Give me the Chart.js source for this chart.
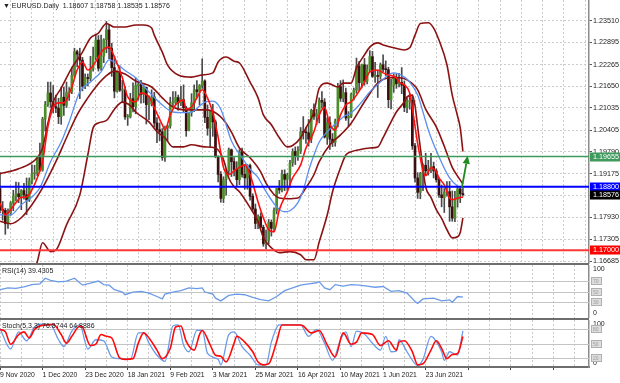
<!DOCTYPE html>
<html>
<head>
<meta charset="utf-8">
<title>EURUSD Daily</title>
<script src="https://cdn.jsdelivr.net/npm/chart.js@4.4.1/dist/chart.umd.min.js"></script>
<style>
html,body{margin:0;padding:0;background:#fff;}
#wrap{position:relative;width:620px;height:383px;overflow:hidden;background:#fff;font-family:'Liberation Sans',Arial,sans-serif;}
.pane{position:absolute;left:0;width:620px;}
.sep{position:absolute;left:0;width:589px;background:#6e6e6e;}
.lbl{position:absolute;font-size:7px;line-height:9px;color:#222;white-space:nowrap;}
</style>
</head>
<body>
<div id="wrap">
  <div class="pane" style="top:0;height:266px"><canvas id="cMain"></canvas></div>
  <div class="pane" style="top:265px;height:53px"><canvas id="cRsi"></canvas></div>
  <div class="pane" style="top:320px;height:63px"><canvas id="cSto"></canvas></div>
  <div class="sep" style="top:263px;height:2px"></div>
  <div class="sep" style="top:318px;height:2px"></div>
  <div class="lbl" style="left:3px;top:1px">&#9660; EURUSD.Daily&nbsp; 1.18607 1.18758 1.18535 1.18576</div>
  <div class="lbl" style="left:2px;top:266px">RSI(14) 39.4305</div>
  <div class="lbl" style="left:2px;top:321px">Stoch(5,3,3) 76.8744 64.8886</div>
</div>
<script>
// ---------------- DATA ----------------
const tickLabels = ['9 Nov 2020','1 Dec 2020','23 Dec 2020','18 Jan 2021','9 Feb 2021','3 Mar 2021','25 Mar 2021','16 Apr 2021','10 May 2021','1 Jun 2021','23 Jun 2021'];
const priceTicks = [1.23510,1.22895,1.22265,1.21650,1.21035,1.20405,1.19790,1.19175,1.18545,1.17930,1.17305,1.16685];

const candleOpen = [
1.1875,1.1814,1.1813,1.1775,1.1806,1.1834,1.1853,1.1860,1.1852,1.1869,
1.1857,1.1842,1.1896,1.1917,1.1918,1.1963,1.1927,1.2072,1.2113,1.2146,
1.2121,1.2107,1.2103,1.2079,1.2134,1.2111,1.2147,1.2150,1.2196,1.2263,
1.2256,1.2239,1.2165,1.2189,1.2187,1.2214,1.2248,1.2296,1.2216,1.2250,
1.2297,1.2325,1.2272,1.2218,1.2151,1.2206,1.2154,1.2154,1.2078,1.2078,
1.2130,1.2107,1.2167,1.2170,1.2142,1.2162,1.2113,1.2116,1.2135,1.2061,
1.2042,1.2036,1.1963,1.2047,1.2053,1.2118,1.2118,1.2133,1.2118,1.2127,
1.2104,1.2039,1.2090,1.2118,1.2155,1.2150,1.2167,1.2180,1.2077,1.2046,
1.2093,1.2064,1.1966,1.1915,1.1847,1.1900,1.1926,1.1985,1.1951,1.1929,
1.1900,1.1979,1.1915,1.1905,1.1940,1.1853,1.1817,1.1776,1.1795,1.1765,
1.1718,1.1728,1.1779,1.1762,1.1813,1.1875,1.1871,1.1915,1.1901,1.1913,
1.1948,1.1980,1.1966,1.1982,1.2036,1.2034,1.2033,1.2015,1.2097,1.2080,
1.2088,1.2125,1.2120,1.2021,1.2062,1.2015,1.2006,1.2066,1.2164,1.2131,
1.2147,1.2075,1.2080,1.2142,1.2154,1.2222,1.2175,1.2226,1.2179,1.2213,
1.2249,1.2193,1.2194,1.2193,1.2226,1.2213,1.2212,1.2127,1.2167,1.2191,
1.2172,1.2176,1.2168,1.2105,1.2122,1.2125,1.1996,1.1905,1.1864,1.1918,
1.1941,1.1925,1.1929,1.1937,1.1925,1.1900,1.1857,1.1849,1.1865,1.1866,
1.1823,1.1791,1.1844,1.1874,1.18607];
const candleHigh = [
1.1920,1.1838,1.1819,1.1817,1.1838,1.1870,1.1893,1.1892,1.1872,1.1890,
1.1905,1.1905,1.1942,1.1941,1.1965,1.2004,1.2077,1.2122,1.2177,1.2177,
1.2167,1.2140,1.2131,1.2162,1.2163,1.2177,1.2161,1.2219,1.2273,1.2268,
1.2273,1.2247,1.2200,1.2200,1.2250,1.2276,1.2310,1.2309,1.2310,1.2300,
1.2349,1.2338,1.2287,1.2251,1.2209,1.2223,1.2182,1.2165,1.2085,1.2145,
1.2175,1.2189,1.2179,1.2182,1.2168,1.2163,1.2138,1.2155,1.2148,1.2076,
1.2061,1.2045,1.2052,1.2054,1.2134,1.2150,1.2150,1.2140,1.2165,1.2169,
1.2108,1.2092,1.2144,1.2169,1.2181,1.2170,1.2243,1.2183,1.2112,1.2097,
1.2114,1.2069,1.1968,1.1923,1.1908,1.1930,1.1990,1.1987,1.1963,1.1951,
1.1985,1.1990,1.1943,1.1943,1.1944,1.1860,1.1831,1.1800,1.1806,1.1771,
1.1757,1.1787,1.1786,1.1820,1.1876,1.1898,1.1927,1.1928,1.1918,1.1955,
1.1988,1.1993,1.1994,1.2048,1.2079,1.2048,1.2071,1.2100,1.2115,1.2100,
1.2132,1.2150,1.2130,1.2076,1.2078,1.2031,1.2072,1.2173,1.2181,1.2183,
1.2160,1.2093,1.2146,1.2160,1.2245,1.2236,1.2228,1.2244,1.2226,1.2266,
1.2264,1.2233,1.2210,1.2231,1.2254,1.2237,1.2219,1.2185,1.2200,1.2200,
1.2202,1.2218,1.2180,1.2132,1.2143,1.2140,1.2003,1.1920,1.1921,1.1945,
1.1975,1.1955,1.1975,1.1950,1.1931,1.1905,1.1885,1.1875,1.1895,1.1895,
1.1868,1.1867,1.1880,1.1880,1.18758];
const candleLow = [
1.1806,1.1785,1.1745,1.1762,1.1799,1.1812,1.1840,1.1835,1.1815,1.1845,
1.1801,1.1838,1.1888,1.1901,1.1911,1.1924,1.1924,1.2038,1.2108,1.2105,
1.2089,1.2090,1.2059,1.2057,1.2082,1.2105,1.2125,1.2144,1.2190,1.2220,
1.2130,1.2152,1.2158,1.2166,1.2180,1.2208,1.2240,1.2208,1.2210,1.2232,
1.2260,1.2243,1.2193,1.2132,1.2148,1.2150,1.2120,1.2071,1.2054,1.2075,
1.2092,1.2087,1.2126,1.2117,1.2118,1.2058,1.2070,1.2109,1.2049,1.2005,
1.2011,1.1955,1.1952,1.2011,1.2046,1.2108,1.2112,1.2097,1.2110,1.2092,
1.2023,1.2038,1.2080,1.2093,1.2133,1.2112,1.2159,1.2062,1.2026,1.1992,
1.2023,1.1962,1.1894,1.1836,1.1835,1.1856,1.1917,1.1909,1.1911,1.1882,
1.1886,1.1907,1.1873,1.1873,1.1842,1.1810,1.1761,1.1761,1.1762,1.1711,
1.1704,1.1718,1.1740,1.1755,1.1803,1.1861,1.1865,1.1869,1.1870,1.1878,
1.1938,1.1943,1.1955,1.1974,1.2015,1.2003,1.1995,1.2005,1.2071,1.2056,
1.2061,1.2103,1.2018,1.2000,1.1986,1.1994,1.1995,1.2050,1.2122,1.2121,
1.2068,1.2052,1.2076,1.2126,1.2145,1.2152,1.2160,1.2168,1.2172,1.2205,
1.2190,1.2176,1.2133,1.2185,1.2206,1.2195,1.2104,1.2101,1.2148,1.2159,
1.2163,1.2144,1.2093,1.2090,1.2100,1.1986,1.1893,1.1847,1.1846,1.1869,
1.1913,1.1913,1.1920,1.1905,1.1893,1.1850,1.1823,1.1807,1.1853,1.1782,
1.1782,1.1781,1.1822,1.1835,1.18535];
const candleClose = [
1.1814,1.1813,1.1775,1.1806,1.1834,1.1853,1.1860,1.1852,1.1869,1.1857,
1.1842,1.1896,1.1917,1.1918,1.1963,1.1927,1.2072,1.2113,1.2146,1.2121,
1.2107,1.2103,1.2079,1.2134,1.2111,1.2147,1.2150,1.2196,1.2263,1.2256,
1.2239,1.2165,1.2189,1.2187,1.2214,1.2248,1.2296,1.2216,1.2250,1.2297,
1.2325,1.2272,1.2218,1.2151,1.2206,1.2154,1.2154,1.2078,1.2078,1.2130,
1.2107,1.2167,1.2170,1.2142,1.2162,1.2113,1.2116,1.2135,1.2061,1.2042,
1.2036,1.1963,1.2047,1.2053,1.2118,1.2118,1.2133,1.2118,1.2127,1.2104,
1.2039,1.2090,1.2118,1.2155,1.2150,1.2167,1.2180,1.2077,1.2046,1.2093,
1.2064,1.1966,1.1915,1.1847,1.1900,1.1926,1.1985,1.1951,1.1929,1.1900,
1.1979,1.1915,1.1905,1.1940,1.1853,1.1817,1.1776,1.1795,1.1765,1.1718,
1.1728,1.1779,1.1762,1.1813,1.1875,1.1871,1.1915,1.1901,1.1913,1.1948,
1.1980,1.1966,1.1982,1.2036,1.2034,1.2033,1.2015,1.2097,1.2080,1.2088,
1.2125,1.2120,1.2021,1.2062,1.2015,1.2006,1.2066,1.2164,1.2131,1.2147,
1.2075,1.2080,1.2142,1.2154,1.2222,1.2175,1.2226,1.2179,1.2213,1.2249,
1.2193,1.2194,1.2193,1.2226,1.2213,1.2212,1.2127,1.2167,1.2191,1.2172,
1.2176,1.2168,1.2105,1.2122,1.2125,1.1996,1.1905,1.1864,1.1918,1.1941,
1.1925,1.1929,1.1937,1.1925,1.1900,1.1857,1.1849,1.1865,1.1866,1.1823,
1.1791,1.1844,1.1874,1.1860,1.18576];

// Indicator lines: [bar index, value]
const bbUpper = [[0,1.1917],[7,1.1931],[14,1.1962],[16,1.1990],[18,1.2060],[20,1.2120],[23,1.2160],[27,1.2217],[31,1.2262],[34,1.2302],[37,1.2316],[40,1.2343],[43,1.2333],[47,1.2333],[51,1.2339],[54,1.2339],[57,1.2330],[58,1.2310],[61,1.2262],[63,1.2225],[67,1.2197],[72,1.2191],[76,1.2197],[80,1.2203],[82,1.2234],[85,1.2248],[88,1.2236],[90,1.2231],[94,1.2177],[97,1.2132],[99,1.2084],[102,1.2056],[105,1.2019],[108,1.1993],[110,1.1997],[113,1.2019],[115,1.2047],[118,1.2092],[120,1.2160],[123,1.2174],[127,1.2163],[129,1.2174],[132,1.2174],[134,1.2217],[137,1.2254],[139,1.2276],[142,1.2288],[144,1.2282],[148,1.2274],[152,1.2268],[154,1.2274],[156,1.2310],[158,1.2343],[161,1.2345],[163,1.2330],[165,1.2296],[168,1.2226],[170,1.2140],[172,1.2080],[173,1.2047],[174,1.1980]];
const bbMiddle = [[0,1.1782],[4,1.1775],[8,1.1792],[12,1.1829],[16,1.1877],[21,1.1951],[25,1.2019],[29,1.2084],[33,1.2132],[36,1.2163],[40,1.2195],[43,1.2208],[47,1.2200],[51,1.2180],[57,1.2163],[61,1.2132],[65,1.2106],[69,1.2098],[73,1.2098],[78,1.2098],[81,1.2090],[84,1.2070],[87,1.2035],[90,1.1990],[94,1.1962],[98,1.1922],[100,1.1890],[103,1.1858],[105,1.1848],[108,1.1846],[112,1.1848],[115,1.1877],[118,1.1914],[120,1.1951],[124,1.1999],[128,1.2027],[132,1.2060],[137,1.2121],[142,1.2174],[147,1.2189],[150,1.2189],[153,1.2183],[157,1.2155],[160,1.2100],[164,1.2050],[167,1.1995],[170,1.1935],[172,1.1910],[174,1.1888]];
const bbLower = [[12,1.1630],[14,1.1667],[16,1.1721],[19,1.1696],[21,1.1700],[25,1.1772],[30,1.1857],[33,1.1970],[35,1.2047],[37,1.2061],[40,1.2068],[43,1.2100],[46,1.2120],[49,1.2110],[51,1.2092],[56,1.2064],[59,1.2036],[62,1.2019],[65,1.1993],[69,1.1993],[72,1.1999],[77,1.1993],[81,1.1990],[84,1.1957],[86,1.1905],[88,1.1880],[90,1.1866],[94,1.1821],[97,1.1781],[99,1.1736],[102,1.1707],[105,1.1693],[109,1.1696],[113,1.1687],[115,1.1673],[118,1.1673],[120,1.1724],[123,1.1800],[125,1.1866],[128,1.1934],[130,1.1970],[132,1.1979],[135,1.1985],[139,1.1990],[142,1.1993],[144,1.2019],[147,1.2064],[149,1.2092],[152,1.2121],[153,1.2135],[155,1.2140],[156,1.2110],[157,1.2050],[158,1.1990],[160,1.1880],[162,1.1850],[164,1.1815],[166,1.1790],[168,1.1758],[170,1.1735],[172,1.1738],[173,1.1750],[174,1.1792]];
const maBlue = [[0,1.1800],[4,1.1800],[8,1.1829],[12,1.1851],[15,1.1877],[19,1.1951],[23,1.2007],[26,1.2064],[30,1.2149],[34,1.2177],[38,1.2206],[41,1.2240],[43,1.2234],[47,1.2210],[51,1.2189],[56,1.2149],[61,1.2112],[65,1.2092],[69,1.2090],[72,1.2092],[77,1.2120],[80,1.2123],[83,1.2100],[87,1.2010],[91,1.1962],[94,1.1930],[97,1.1906],[100,1.1866],[104,1.1823],[107,1.1809],[109,1.1812],[112,1.1835],[114,1.1870],[116,1.1925],[118,1.1970],[120,1.2007],[123,1.2036],[127,1.2064],[129,1.2078],[132,1.2090],[135,1.2112],[139,1.2149],[143,1.2177],[146,1.2197],[148,1.2203],[152,1.2191],[154,1.2177],[157,1.2140],[159,1.2092],[161,1.2041],[165,1.1965],[169,1.1905],[172,1.1882],[174,1.1877]];
const maRed = [[0,1.1834],[2,1.1800],[4,1.1815],[6,1.1835],[8,1.1850],[10,1.1851],[12,1.1871],[14,1.1905],[16,1.1951],[18,1.2050],[20,1.2105],[22,1.2118],[24,1.2118],[27,1.2163],[29,1.2211],[31,1.2234],[33,1.2211],[34,1.2215],[36,1.2235],[39,1.2270],[41,1.2276],[43,1.2248],[46,1.2189],[48,1.2135],[51,1.2121],[53,1.2146],[56,1.2135],[58,1.2104],[61,1.2056],[62,1.2041],[64,1.2084],[66,1.2112],[69,1.2126],[70,1.2100],[72,1.2106],[74,1.2132],[76,1.2155],[78,1.2132],[80,1.2090],[82,1.2020],[84,1.1935],[86,1.1914],[88,1.1925],[90,1.1935],[92,1.1942],[94,1.1914],[97,1.1837],[99,1.1792],[101,1.1758],[103,1.1752],[105,1.1815],[108,1.1866],[110,1.1905],[113,1.1942],[115,1.1990],[118,1.2036],[120,1.2084],[122,1.2105],[124,1.2056],[126,1.2041],[128,1.2084],[130,1.2112],[132,1.2121],[134,1.2140],[137,1.2177],[139,1.2206],[142,1.2211],[144,1.2203],[146,1.2197],[149,1.2189],[150,1.2177],[152,1.2169],[154,1.2146],[155,1.2103],[156,1.2051],[157,1.2002],[158,1.1961],[159,1.1925],[160,1.1911],[162,1.1934],[164,1.1922],[165,1.1905],[167,1.1885],[169,1.1848],[170,1.1843],[172,1.1848],[174,1.1851]];

const rsi14 = [[0,53.5],[3,56.8],[6,56],[9,58.7],[12,63],[15,64.5],[17,75],[19,71],[22,68],[25,69.7],[28,75],[31,62],[34,66],[37,69.7],[39,63],[41,62],[43,53.5],[46,49],[47,43.9],[50,49],[53,50.3],[56,47],[59,40.6],[61,36],[62,45],[65,49],[68,51.6],[71,56.8],[74,55.5],[76,56.8],[77,49],[80,45],[81,37.4],[83,32.3],[86,42.6],[89,45],[92,43.9],[95,38.7],[98,34.8],[101,32.3],[104,40.6],[107,51.6],[110,56.8],[113,62],[116,64.5],[119,66.5],[120,68.4],[122,56.8],[124,53.5],[126,63],[129,60],[132,63],[135,62],[138,60],[141,58],[144,59.4],[147,50.3],[150,51.6],[153,47],[156,31],[157,27.7],[159,36],[163,37.4],[166,32.3],[169,34.2],[170,29.7],[172,40.6],[174,39.43]];
const stochMain = [[0,82],[4,38.3],[7,74.8],[10,55.8],[13,85],[15,91],[19,89.5],[22,58],[24,43.4],[27,76.3],[30,89.5],[33,38.3],[36,58],[39,55.8],[42,21.4],[45,17.8],[49,16.3],[52,72.6],[54,72.6],[56,50.7],[59,25.1],[62,11.9],[65,87.3],[67,89.5],[69,47],[71,32.4],[74,77.8],[76,77.8],[78,28.8],[82,16.3],[83,4.6],[86,69],[88,74.8],[91,43.4],[94,25.1],[97,4.6],[100,4.6],[102,52.9],[105,89.5],[113,89.5],[116,65.3],[119,80],[122,50.7],[125,14.1],[128,58],[130,74.8],[132,43.4],[134,76.3],[137,70.4],[140,50.7],[143,36],[145,65.3],[147,32.4],[149,33.9],[150,58],[153,32.4],[157,3.1],[159,16.3],[162,65.3],[163,61.7],[166,32.4],[167,14.1],[169,32.4],[172,25.1],[174,76.87]];
const stochSignal = [[0,80],[2,74.8],[4,48.5],[7,69],[9,74.8],[11,61.7],[13,80],[15,87.3],[18,89.5],[20,91],[23,69],[25,50.7],[27,65.3],[30,87.3],[31,85],[34,45.6],[36,48.5],[38,69],[40,65.3],[42,61.7],[45,19.2],[47,16.3],[50,17.8],[52,50.7],[54,72.6],[56,61.7],[59,36],[61,17.8],[64,39.7],[66,85],[68,87.3],[70,54.4],[73,36],[75,69],[76,77.8],[79,47],[81,25.1],[83,22.9],[85,10.5],[88,50.7],[89,65.3],[92,52.9],[95,32.4],[97,10.5],[99,4.6],[101,6.8],[104,54.4],[106,89.5],[110,89.5],[113,89.5],[114,87.3],[117,72.6],[120,77.8],[123,47],[126,21.4],[129,72.6],[132,48.5],[134,52.9],[136,72.6],[140,69],[143,45.6],[146,55.8],[149,36],[150,52.9],[152,55.8],[155,32.4],[157,4.6],[159,6.8],[162,36],[164,55.8],[166,39.7],[168,17.8],[170,26.6],[172,28.8],[174,64.89]];

const hLevelPrices = [1.19655, 1.18800, 1.17000];
const boxPrices = [1.19655, 1.18800, 1.18576, 1.17000];
const rsiLevels = [70, 50, 30];
const stochLevels = [80, 50, 20];
const arrowStart = [173.6, 1.1877];
const arrowTip = [175.8, 1.1968];

// ---------------- STYLE ----------------
const FONT = "'Liberation Sans', Arial, sans-serif";
const GRID = '#cccccc';
const X_MIN = 0, X_MAX = 221.4;
const Y_MIN = 1.16637, Y_MAX = 1.24097;
const BULL = '#4c8f2a', BEAR = '#3a0e0e', WICK = '#4a4a4a';
const BB_COLOR = '#8b1212';
const hLevelStyle = [{c:'#3f9a5d', w:1.5}, {c:'#0000ff', w:2}, {c:'#ff3636', w:2}];
const boxStyle = ['#3f9a5d', '#0000ff', '#000000', '#ff0000'];
const gridIdx = [];
for (let v = 0; v <= X_MAX; v += 8) gridIdx.push(v);

const pts = arr => arr.map(p => ({x: p[0], y: p[1]}));
function lineDs(arr, color, width, mode) {
  return {type:'line', data: pts(arr), borderColor: color, borderWidth: width, pointRadius: 0,
          pointHoverRadius: 0, fill: false, cubicInterpolationMode: mode || 'monotone', tension: 0};
}
function xAxis(withLabels) {
  return {
    type: 'linear', min: X_MIN, max: X_MAX, offset: false,
    afterBuildTicks: s => { s.ticks = gridIdx.map(v => ({value: v})); },
    grid: { color: GRID, lineWidth: 1, drawTicks: withLabels, tickLength: 3,
            tickColor: c => (c.tick && c.tick.value % 16 === 0) ? '#444' : 'rgba(0,0,0,0)' },
    border: { display: withLabels, color: '#6e6e6e', width: 2, dash: [2, 2] },
    ticks: { display: withLabels, autoSkip: false, maxRotation: 0, minRotation: 0, align: 'start', padding: 1,
             color: '#222', font: {family: FONT, size: 6.8},
             callback: v => (v % 16 === 0 && tickLabels[v / 16]) ? tickLabels[v / 16] : '' },
    afterFit: s => { s.height = withLabels ? 16 : 0; s.paddingLeft = 0; s.paddingRight = 0; }
  };
}
const baseOpts = {
  animation: false, responsive: true, maintainAspectRatio: false, events: [],
  layout: { autoPadding: false, padding: 0 },
  plugins: { legend: {display: false}, tooltip: {enabled: false} }
};

// ---------------- MAIN CHART ----------------
const idx = candleClose.map((_, i) => i);
const mainDeco = {
  id: 'mainDeco',
  afterDatasetsDraw(chart) {
    const {ctx, chartArea: a, scales: {x, y}} = chart;
    ctx.save();
    ctx.beginPath(); ctx.rect(a.left, a.top, a.right - a.left, a.bottom - a.top); ctx.clip();
    hLevelPrices.forEach((p, k) => {
      const py = y.getPixelForValue(p);
      ctx.strokeStyle = hLevelStyle[k].c; ctx.lineWidth = hLevelStyle[k].w;
      ctx.beginPath(); ctx.moveTo(a.left, py); ctx.lineTo(a.right, py); ctx.stroke();
    });
    const x0 = x.getPixelForValue(arrowStart[0]), y0 = y.getPixelForValue(arrowStart[1]);
    const x1 = x.getPixelForValue(arrowTip[0]), y1 = y.getPixelForValue(arrowTip[1]);
    const dx = x1 - x0, dy = y1 - y0, len = Math.hypot(dx, dy), ux = dx / len, uy = dy / len;
    const hb = 8, hw = 3.6;
    const bx = x1 - ux * hb, by = y1 - uy * hb;
    ctx.strokeStyle = '#1f8a1f'; ctx.fillStyle = '#1f8a1f'; ctx.lineWidth = 1.8;
    ctx.beginPath(); ctx.moveTo(x0, y0); ctx.lineTo(bx, by); ctx.stroke();
    ctx.beginPath(); ctx.moveTo(x1, y1); ctx.lineTo(bx - uy * hw, by + ux * hw); ctx.lineTo(bx + uy * hw, by - ux * hw);
    ctx.closePath(); ctx.fill();
    ctx.restore();
  },
  afterDraw(chart) {
    const {ctx, chartArea: a, scales: {y}} = chart;
    ctx.save();
    ctx.font = '7.2px ' + FONT; ctx.textBaseline = 'middle'; ctx.textAlign = 'left';
    boxPrices.forEach((p, k) => {
      const py = Math.round(y.getPixelForValue(p));
      ctx.fillStyle = boxStyle[k]; ctx.fillRect(a.right + 1, py - 4.5, chart.width - a.right - 1, 9);
      ctx.fillStyle = '#ffffff'; ctx.fillText(p.toFixed(5), a.right + 4, py + 0.5);
    });
    ctx.restore();
  }
};
new Chart(document.getElementById('cMain'), {
  type: 'line',
  data: { datasets: [
    lineDs(maRed, '#ff1010', 1.6),
    lineDs(maBlue, '#5a8ff0', 1.3),
    lineDs(bbUpper, BB_COLOR, 1.6),
    lineDs(bbMiddle, BB_COLOR, 1.6),
    lineDs(bbLower, BB_COLOR, 1.6),
    { type: 'bar', data: idx.map(i => ({x: i, y: [candleOpen[i], candleClose[i]]})),
      backgroundColor: idx.map(i => candleClose[i] >= candleOpen[i] ? BULL : BEAR),
      barThickness: 2, grouped: false, minBarLength: 1, borderWidth: 0 },
    { type: 'bar', data: idx.map(i => ({x: i, y: [candleLow[i], candleHigh[i]]})),
      backgroundColor: WICK, barThickness: 1, grouped: false, borderWidth: 0 }
  ]},
  options: Object.assign({}, baseOpts, {
    layout: { autoPadding: false, padding: {top: 0, left: 0, right: 0, bottom: 3} },
    scales: {
      x: xAxis(false),
      y: { type: 'linear', position: 'right', min: Y_MIN, max: Y_MAX,
           afterBuildTicks: s => { s.ticks = priceTicks.map(v => ({value: v})); },
           grid: { color: GRID, tickColor: '#555', tickLength: 3, drawTicks: true },
           border: { display: true, color: '#8c8c8c', width: 1.5, dash: [2, 2] },
           ticks: { autoSkip: false, padding: 1, color: '#222', font: {family: FONT, size: 7.2},
                    callback: v => Number(v).toFixed(5) },
           afterFit: s => { s.width = 31; s.paddingTop = 0; s.paddingBottom = 0; } }
    }
  }),
  plugins: [mainDeco]
});

// ---------------- SUB PANELS ----------------
function panelDeco(levels, topOff, botOff) {
  return {
    id: 'panelDeco',
    beforeDatasetsDraw(chart) {
      const {ctx, chartArea: a, scales: {y}} = chart;
      ctx.save(); ctx.strokeStyle = '#c4c4c4'; ctx.lineWidth = 1;
      levels.forEach(l => {
        const py = Math.round(y.getPixelForValue(l)) + 0.5;
        ctx.beginPath(); ctx.moveTo(a.left, py); ctx.lineTo(a.right, py); ctx.stroke();
      });
      ctx.restore();
    },
    afterDraw(chart) {
      const {ctx, chartArea: a, scales: {y}} = chart;
      ctx.save();
      ctx.font = '7px ' + FONT; ctx.fillStyle = '#222'; ctx.textBaseline = 'middle'; ctx.textAlign = 'left';
      ctx.fillText('100', a.right + 4, y.getPixelForValue(100) + topOff);
      ctx.fillText('0', a.right + 4, y.getPixelForValue(0) - botOff);
      levels.forEach(l => {
        const py = Math.round(y.getPixelForValue(l));
        ctx.fillStyle = '#dedede'; ctx.fillRect(a.right + 2.5, py - 3.5, 10, 7);
        ctx.strokeStyle = '#b0b0b0'; ctx.lineWidth = 1; ctx.strokeRect(a.right + 2.5, py - 3.5, 10, 7);
        ctx.fillStyle = '#9a9a9a'; ctx.font = '5px ' + FONT; ctx.fillText(String(l), a.right + 4, py + 0.5);
      });
      ctx.restore();
    }
  };
}
function subY() {
  return { type: 'linear', position: 'right', min: 0, max: 100,
           grid: { display: false }, ticks: { display: false },
           border: { display: true, color: '#8c8c8c', width: 1.5 },
           afterFit: s => { s.width = 31; s.paddingTop = 0; s.paddingBottom = 0; } };
}
new Chart(document.getElementById('cRsi'), {
  type: 'line',
  data: { datasets: [ lineDs(rsi14, '#6b9be8', 1.3, 'default') ] },
  options: Object.assign({}, baseOpts, { scales: { x: xAxis(false), y: subY() } }),
  plugins: [panelDeco(rsiLevels, 4, 5)]
});
new Chart(document.getElementById('cSto'), {
  type: 'line',
  data: { datasets: [
    lineDs(stochSignal, '#ff0a0a', 1.6),
    lineDs(stochMain, '#6b9be8', 1.3)
  ]},
  options: Object.assign({}, baseOpts, { scales: { x: xAxis(true), y: subY() } }),
  plugins: [panelDeco(stochLevels, 4, 4)]
});
</script>
</body>
</html>
